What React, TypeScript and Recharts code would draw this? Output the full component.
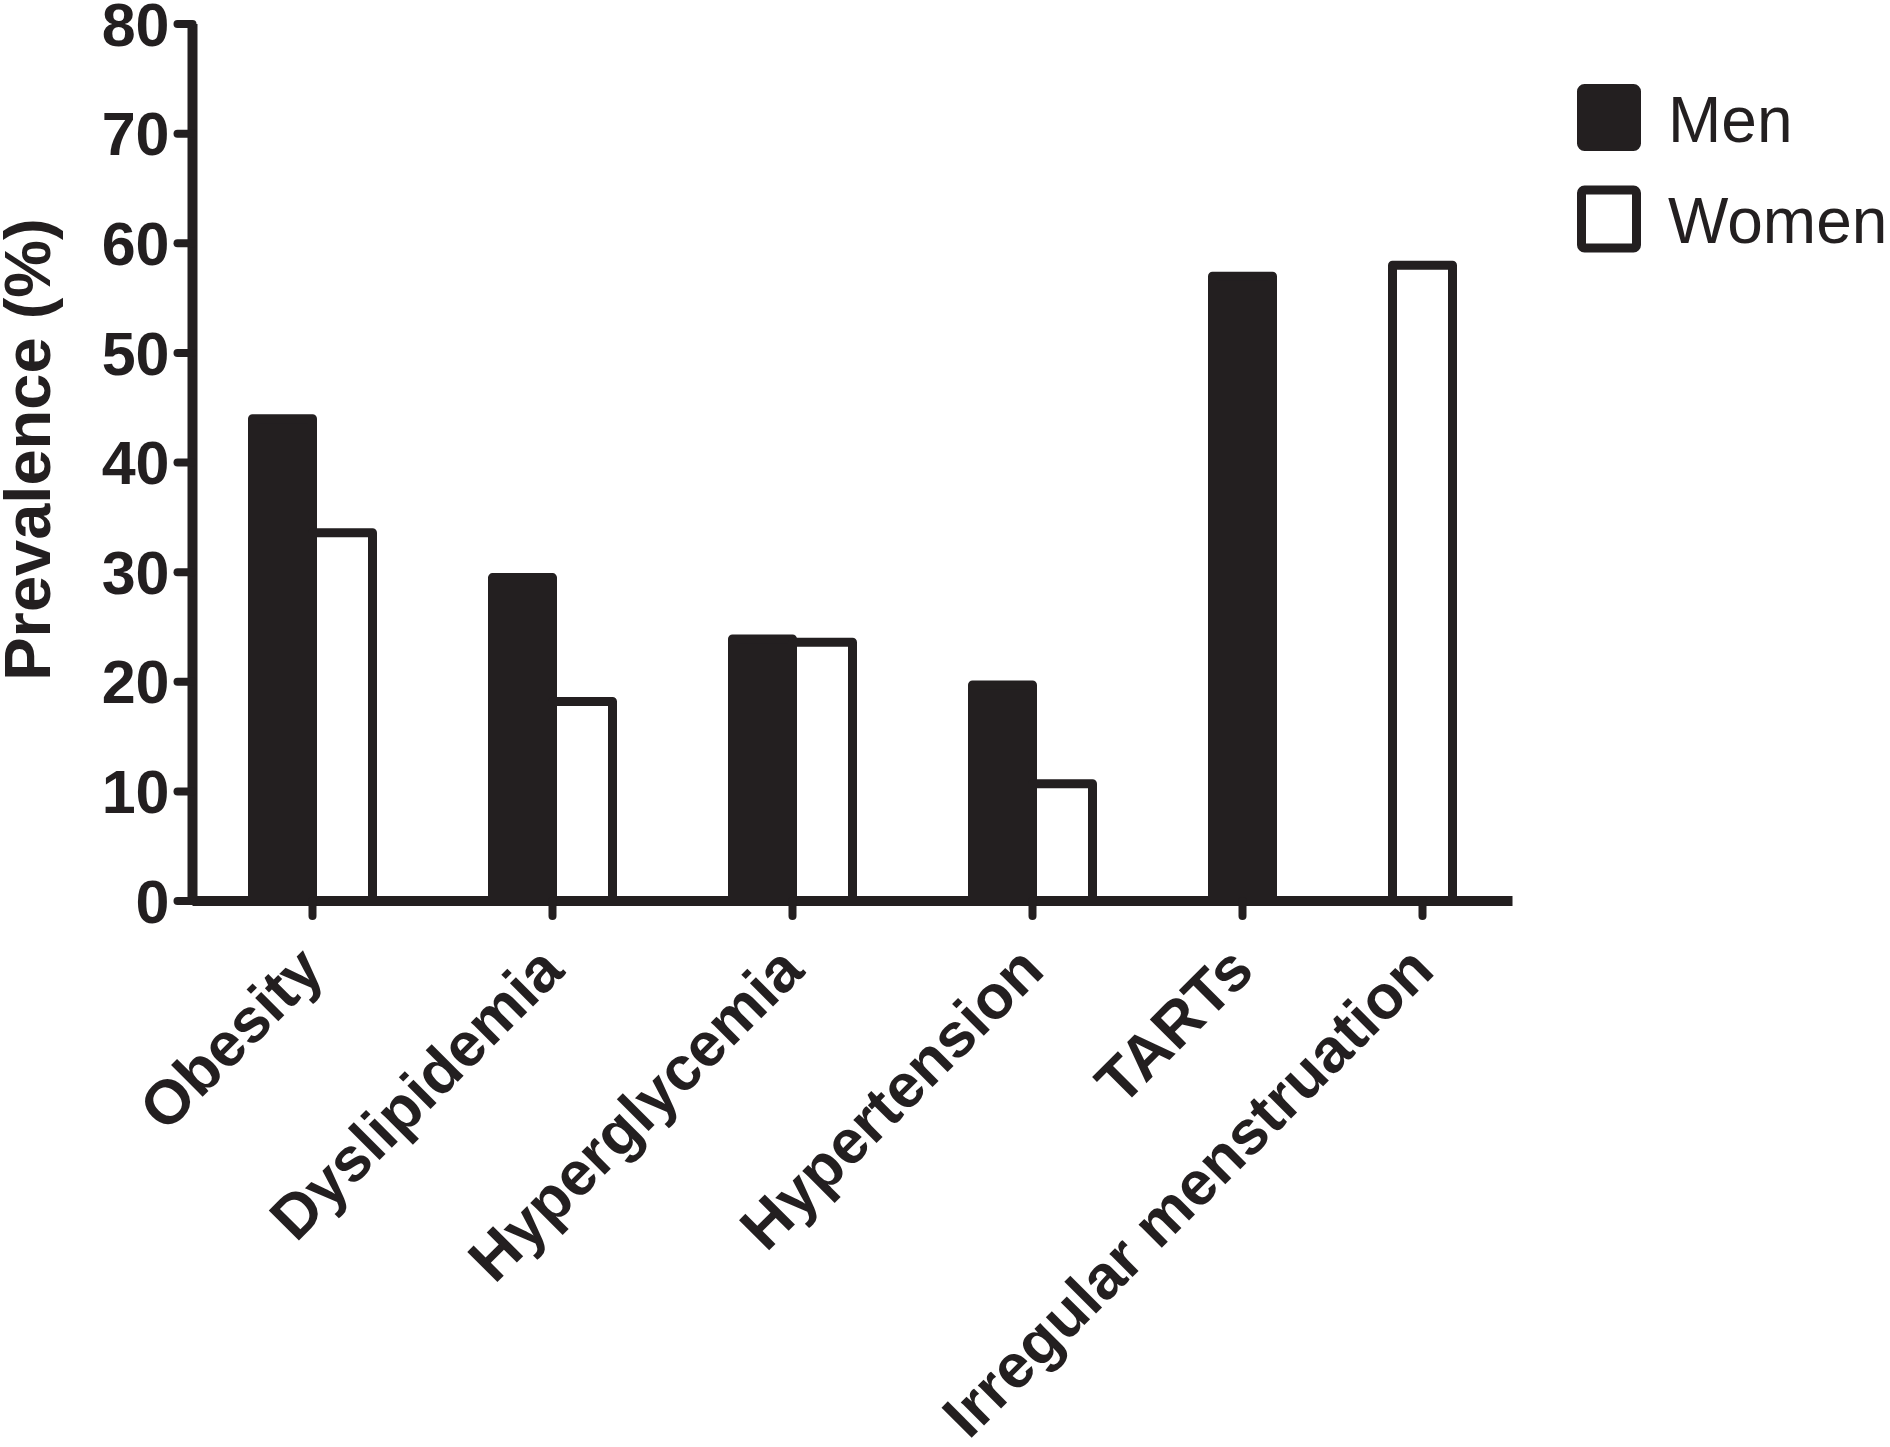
import React from 'react';
import { BarChart, Bar, XAxis, YAxis, Legend } from 'recharts';

const categories = ['Obesity', 'Dyslipidemia', 'Hyperglycemia', 'Hypertension', 'TARTs', 'Irregular menstruation'];
const menValues: (number | null)[] = [44.0, 29.5, 23.9, 19.7, 57.0, null];
const womenValues: (number | null)[] = [33.6, 18.2, 23.6, 10.7, null, 58.0];
const yTicks = [0, 10, 20, 30, 40, 50, 60, 70, 80];

const INK = '#231f20';
const FONT = '"Liberation Sans", Arial, Helvetica, sans-serif';

// layout in bar-width units: one unit per bar, two units between groups
const GAP = 2;
const rows: { x: number; men: number | null; women: number | null }[] = [];
const tickCenters: number[] = [];
const tickNames = new Map<number, string>();
let cursor = GAP / 2;
categories.forEach((cat, i) => {
  const start = cursor;
  if (menValues[i] != null) {
    rows.push({ x: cursor + 0.5, men: menValues[i], women: null });
    cursor += 1;
  }
  if (womenValues[i] != null) {
    rows.push({ x: cursor + 0.5, men: null, women: womenValues[i] });
    cursor += 1;
  }
  const c = (start + cursor) / 2;
  tickCenters.push(c);
  tickNames.set(c, cat);
  cursor += GAP;
});
const xMax = cursor - GAP + GAP / 2;

const AngledTick = (props: any) => {
  const { x, y, payload } = props;
  return (
    <g transform={`translate(${x + 14},${y + 55})`}>
      <text
        transform="rotate(-45)"
        textAnchor="end"
        fontSize={62}
        fontWeight="bold"
        fontFamily={FONT}
        fill={INK}
      >
        {tickNames.get(payload.value)}
      </text>
    </g>
  );
};

const YLabel = (props: any) => {
  const vb = props.viewBox || { x: 0, y: 0, width: 0, height: 0 };
  const cx = vb.x + 27;
  const cy = vb.y + vb.height / 2 - 13;
  return (
    <text
      x={cx}
      y={cy}
      transform={`rotate(-90, ${cx}, ${cy})`}
      textAnchor="middle"
      dominantBaseline="central"
      fontSize={65}
      fontWeight="bold"
      fontFamily={FONT}
      fill={INK}
    >
      Prevalence (%)
    </text>
  );
};

const LegendContent = (props: any) => {
  const payload = props.payload || [];
  return (
    <svg width={317} height={190} style={{ overflow: 'hidden', display: 'block' }}>
      {payload.map((p: any, i: number) => (
        <g key={p.value} transform={`translate(0, ${i * 101.5})`}>
          <rect
            x={8.5}
            y={8.5}
            width={55}
            height={58}
            rx={3}
            fill={p.value === 'Men' ? INK : '#ffffff'}
            stroke={INK}
            strokeWidth={9}
            strokeLinejoin="round"
          />
          <text x={95} y={61.7} fontSize={64} fontFamily={FONT} fill={INK}>
            {p.value}
          </text>
        </g>
      ))}
    </svg>
  );
};

export default function App() {
  return (
    <div style={{ position: 'absolute', left: 0, top: 0, width: 1890, height: 1447, background: '#ffffff' }}>
      <BarChart
        width={1890}
        height={1447}
        data={rows}
        margin={{ top: 24, right: 377.5, bottom: 0, left: 0 }}
        barCategoryGap="0%"
        barGap={0}
      >
        <XAxis
          dataKey="x"
          type="number"
          domain={[0, xMax]}
          ticks={tickCenters}
          interval={0}
          allowDataOverflow
          height={546}
          tickSize={15}
          tick={<AngledTick />}
          axisLine={{ stroke: INK, strokeWidth: 10 }}
          tickLine={{ stroke: INK, strokeWidth: 8, strokeLinecap: 'round' }}
        />
        <YAxis
          type="number"
          domain={[0, 80]}
          ticks={yTicks}
          interval={0}
          width={192.5}
          tickSize={15}
          tickMargin={8}
          tick={{ fontSize: 61, fontWeight: 'bold', fontFamily: FONT, fill: INK }}
          axisLine={{ stroke: INK, strokeWidth: 10 }}
          tickLine={{ stroke: INK, strokeWidth: 8, strokeLinecap: 'round' }}
          label={<YLabel />}
        />
        <Legend
          layout="horizontal"
          verticalAlign="middle"
          align="center"
          content={<LegendContent />}
          wrapperStyle={{ position: 'absolute', top: 80, left: 1573, width: 317, height: 190 }}
        />
        <Bar
          dataKey="men"
          name="Men"
          stackId="s"
          fill={INK}
          stroke={INK}
          strokeWidth={9}
          strokeLinejoin="round"
          isAnimationActive={false}
        />
        <Bar
          dataKey="women"
          name="Women"
          stackId="s"
          fill="#ffffff"
          stroke={INK}
          strokeWidth={9}
          strokeLinejoin="round"
          isAnimationActive={false}
        />
      </BarChart>
    </div>
  );
}
